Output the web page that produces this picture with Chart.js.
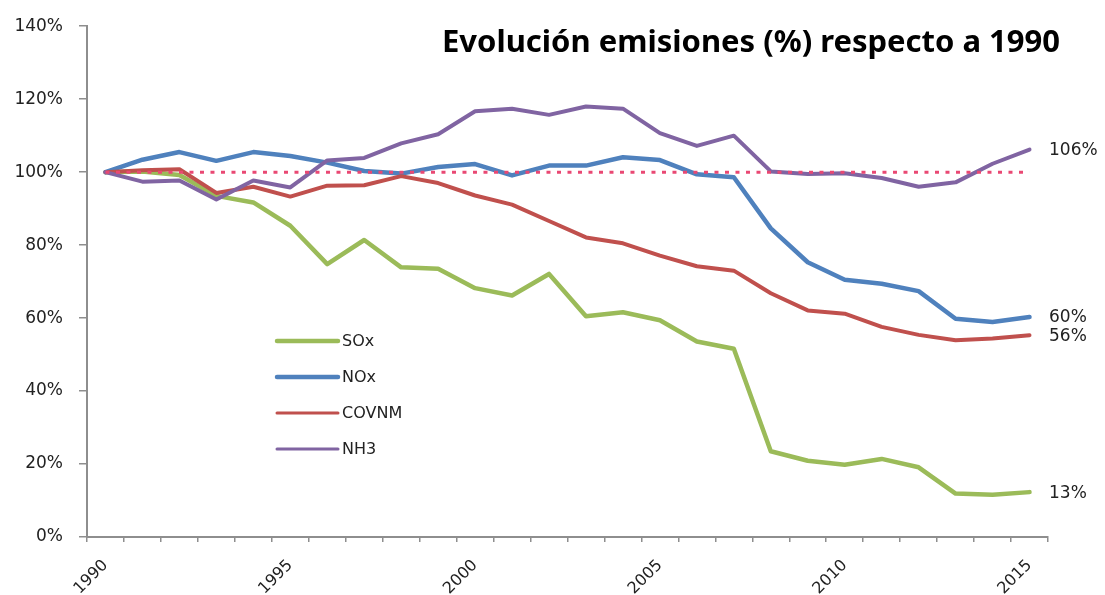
<!DOCTYPE html>
<html>
<head>
<meta charset="utf-8">
<script src="https://cdn.jsdelivr.net/npm/chart.js@4"></script>
<style>
    html, body { margin: 0; padding: 0; background: #fff; }
    #wrap { width: 1105px; height: 595px; }
</style>
</head>
<body>
<div id="wrap"><canvas id="chart" width="1105" height="595"></canvas></div>
<script>
// values in % of 1990
const years = ['1990', '1991', '1992', '1993', '1994', '1995', '1996', '1997', '1998', '1999',
    '2000', '2001', '2002', '2003', '2004', '2005', '2006', '2007', '2008', '2009',
    '2010', '2011', '2012', '2013', '2014', '2015'];
const labeledYears = ['1990', '1995', '2000', '2005', '2010', '2015'];

const sox = [100, 100.2, 99.2, 93.5, 91.7, 85.3, 74.8, 81.4, 73.9, 73.5,
    68.2, 66.2, 72.1, 60.5, 61.6, 59.4, 53.6, 51.6, 23.5, 20.9,
    19.8, 21.4, 19.1, 11.9, 11.6, 12.3];
const nox = [100, 103.4, 105.5, 103.1, 105.5, 104.4, 102.6, 100.3, 99.6, 101.4,
    102.2, 99.1, 101.8, 101.8, 104.1, 103.3, 99.4, 98.6, 84.6, 75.3,
    70.5, 69.4, 67.4, 59.8, 58.9, 60.3];
const covnm = [100, 100.5, 100.8, 94.3, 96.0, 93.3, 96.3, 96.4, 98.9, 97.0,
    93.6, 91.1, 86.6, 82.1, 80.5, 77.1, 74.2, 73.0, 66.8, 62.1,
    61.2, 57.6, 55.4, 53.9, 54.4, 55.3];
const nh3 = [100, 97.4, 97.7, 92.5, 97.7, 95.8, 103.2, 103.9, 107.9, 110.4,
    116.7, 117.4, 115.7, 118.0, 117.4, 110.7, 107.2, 110.0, 100.2, 99.5,
    99.7, 98.4, 96.0, 97.2, 102.3, 106.2];
const baseline = [100, 100, 100, 100, 100, 100, 100, 100, 100, 100,
    100, 100, 100, 100, 100, 100, 100, 100, 100, 100,
    100, 100, 100, 100, 100, 100];

const seriesNames = ['SOx', 'NOx', 'COVNM', 'NH3'];
const seriesColors = ['#9bbb59', '#4f81bd', '#c0504d', '#8064a2'];
const seriesWidths = [4.5, 4.5, 4, 4];
const legendWidths = [4.5, 4.5, 3, 3];
const endLabels = ['13%', '60%', '56%', '106%'];

const title = 'Evolución emisiones (%) respecto a 1990';

Chart.defaults.font.family = '"DejaVu Sans", Verdana, sans-serif';
Chart.defaults.color = '#222';

const seriesData = [sox, nox, covnm, nh3];

let datasets = [];
for (let i = 0; i < seriesData.length; i++)
{
    datasets.push({
        label: seriesNames[i],
        data: seriesData[i],
        borderColor: seriesColors[i],
        backgroundColor: seriesColors[i],
        borderWidth: seriesWidths[i],
        pointRadius: 0,
        tension: 0,
        borderJoinStyle: 'round',
        borderCapStyle: 'round',
        order: 3 - i,
    });
}
datasets.push({
    label: 'base',
    data: baseline,
    borderColor: '#e94873',
    borderWidth: 3,
    borderDash: [4, 6.5],
    pointRadius: 0,
    order: -1,
});

// title, inside legend and end-of-line labels
const overlay = {
    id: 'overlay',
    afterDraw(chart)
    {
        const ctx = chart.ctx;
        const area = chart.chartArea;
        const y = chart.scales.y;
        ctx.save();

        ctx.fillStyle = '#000';
        ctx.font = 'bold 31px "Noto Sans"';
        ctx.textAlign = 'left';
        ctx.textBaseline = 'alphabetic';
        ctx.fillText(title, 442, 52, 626);

        ctx.font = '16px "DejaVu Sans"';
        ctx.textBaseline = 'middle';
        for (let i = 0; i < seriesNames.length; i++)
        {
            const ly = 341 + i * 36;
            ctx.strokeStyle = seriesColors[i];
            ctx.lineWidth = legendWidths[i];
            ctx.lineCap = 'round';
            ctx.beginPath();
            ctx.moveTo(277, ly);
            ctx.lineTo(338, ly);
            ctx.stroke();
            ctx.fillStyle = '#222';
            ctx.fillText(seriesNames[i], 342, ly + 1);
        }

        ctx.font = '17px "DejaVu Sans"';
        for (let i = 0; i < seriesData.length; i++)
        {
            const d = seriesData[i];
            const py = y.getPixelForValue(d[d.length - 1]);
            ctx.fillText(endLabels[i], area.right + 1, py + 1);
        }
        ctx.restore();
    }
};

new Chart('chart', {
    type: 'line',
    data: { labels: years, datasets: datasets },
    plugins: [overlay],
    options: {
        responsive: false,
        animation: false,
        events: [],
        layout: { padding: { top: 22, right: 57, left: 0, bottom: 0 } },
        plugins: {
            legend: { display: false },
            tooltip: { enabled: false },
        },
        scales: {
            x: {
                offset: true,
                grid: {
                    offset: true,
                    drawOnChartArea: false,
                    drawTicks: true,
                    tickLength: 5,
                    color: '#8e8e8e',
                    lineWidth: 1.5,
                },
                border: { color: '#8e8e8e', width: 2 },
                ticks: {
                    autoSkip: false,
                    maxRotation: 45,
                    minRotation: 45,
                    padding: 14,
                    font: { size: 16 },
                    color: '#222',
                    callback: function (value)
                    {
                        const lab = this.getLabelForValue(value);
                        return labeledYears.includes(lab) ? lab : '';
                    },
                },
                afterFit: s => { s.height = 58; },
            },
            y: {
                min: 0,
                max: 140,
                grid: {
                    drawOnChartArea: false,
                    drawTicks: true,
                    tickLength: 8,
                    color: '#8e8e8e',
                    lineWidth: 1.5,
                },
                border: { color: '#8e8e8e', width: 2 },
                ticks: {
                    stepSize: 20,
                    padding: 16,
                    font: { size: 17 },
                    color: '#222',
                    callback: v => v + '%',
                },
                afterFit: s => { s.width = 87; },
            },
        },
    },
});
</script>
</body>
</html>
